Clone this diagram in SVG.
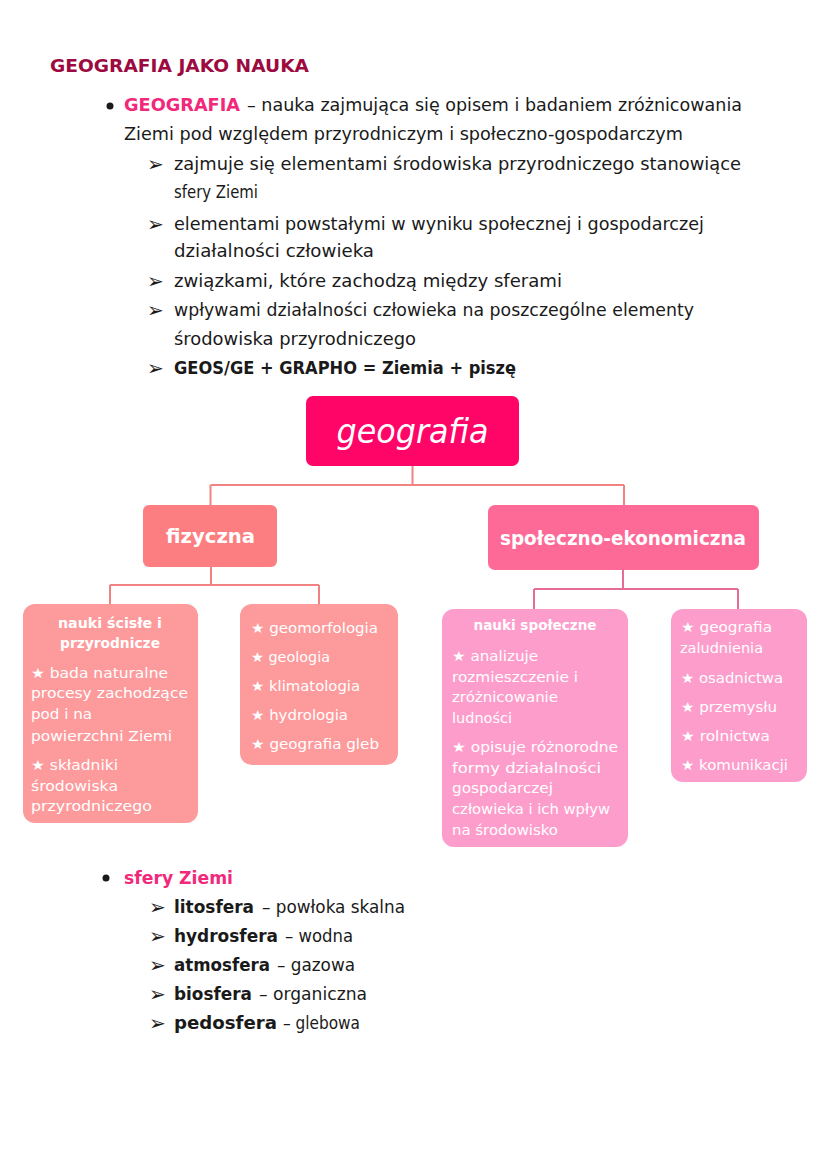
<svg xmlns="http://www.w3.org/2000/svg" width="828" height="1171" viewBox="0 0 828 1171">
<style>
.t{font-family:"DejaVu Sans","Liberation Sans",sans-serif;font-size:17px;fill:#1a1a1a}
.b{font-weight:bold}
.pk{fill:#f2287a;font-weight:bold}
.ar{font-family:"DejaVu Sans",sans-serif;font-size:20px;fill:#1a1a1a}
.w{font-family:"DejaVu Sans","Liberation Sans",sans-serif;fill:#ffffff}
.bx{font-size:14px}
.c1{stroke:#f08282;stroke-width:2;fill:none}
.c2{stroke:#e66c98;stroke-width:2;fill:none}
</style>
<rect width="828" height="1171" fill="#ffffff"/>
<g id="header">
<text class="t b" x="50" y="72" style="fill:#9c0a3f" textLength="259" lengthAdjust="spacingAndGlyphs">GEOGRAFIA JAKO NAUKA</text>
<circle cx="110" cy="106" r="3.5" fill="#1a1a1a"/>
<text class="t pk" x="124" y="111" textLength="116" lengthAdjust="spacingAndGlyphs">GEOGRAFIA</text>
<text class="t" x="247" y="111" textLength="495" lengthAdjust="spacingAndGlyphs">– nauka zajmująca się opisem i badaniem zróżnicowania</text>
<text class="t" x="124" y="140" textLength="559" lengthAdjust="spacingAndGlyphs">Ziemi pod względem przyrodniczym i społeczno-gospodarczym</text>
<text class="ar" x="147" y="171">➢</text>
<text class="t" x="174" y="170" textLength="567" lengthAdjust="spacingAndGlyphs">zajmuje się elementami środowiska przyrodniczego stanowiące</text>
<text class="t" x="174" y="198" textLength="84" lengthAdjust="spacingAndGlyphs">sfery Ziemi</text>
<text class="ar" x="147" y="231">➢</text>
<text class="t" x="174" y="230" textLength="530" lengthAdjust="spacingAndGlyphs">elementami powstałymi w wyniku społecznej i gospodarczej</text>
<text class="t" x="174" y="257" textLength="200" lengthAdjust="spacingAndGlyphs">działalności człowieka</text>
<text class="ar" x="147" y="288">➢</text>
<text class="t" x="174" y="287" textLength="388" lengthAdjust="spacingAndGlyphs">związkami, które zachodzą między sferami</text>
<text class="ar" x="147" y="317">➢</text>
<text class="t" x="174" y="316" textLength="520" lengthAdjust="spacingAndGlyphs">wpływami działalności człowieka na poszczególne elementy</text>
<text class="t" x="174" y="345" textLength="242" lengthAdjust="spacingAndGlyphs">środowiska przyrodniczego</text>
<text class="ar" x="147" y="375">➢</text>
<text class="t b" x="174" y="374" textLength="342" lengthAdjust="spacingAndGlyphs">GEOS/GE + GRAPHO = Ziemia + piszę</text>
</g>
<g id="connectors">
<path class="c1" d="M412.5 466 V485 M210.5 485 H624 M210.5 485 V505 M624 485 V505"/>
<path class="c1" d="M211 567 V585 M110 585 H319 M110 585 V605 M319 585 V605"/>
<path class="c2" d="M623 570 V589 M534 589 H738 M534 589 V609 M738 589 V609"/>
</g>
<g id="root">
<rect x="306" y="396" width="213" height="70" rx="7" fill="#fe0567"/>
<text class="w" x="412.5" y="443" font-size="34" font-style="italic" text-anchor="middle" textLength="152" lengthAdjust="spacingAndGlyphs">geografia</text>
</g>
<g id="fizyczna">
<rect x="143" y="505" width="134" height="62" rx="6" fill="#fd7e80"/>
<text class="w b" x="210.5" y="543" font-size="20" text-anchor="middle" textLength="89" lengthAdjust="spacingAndGlyphs">fizyczna</text>
</g>
<g id="spoleczno">
<rect x="488" y="505" width="271" height="65" rx="7" fill="#fe6a98"/>
<text class="w b" x="623" y="545" font-size="20" text-anchor="middle" textLength="246" lengthAdjust="spacingAndGlyphs">społeczno-ekonomiczna</text>
</g>
<g id="nauki-scisle">
<rect x="23" y="604" width="175" height="219" rx="12" fill="#fd9a9c"/>
<text class="w bx b" x="110" y="628" text-anchor="middle" textLength="104" lengthAdjust="spacingAndGlyphs">nauki ścisłe i</text>
<text class="w bx b" x="110" y="648" text-anchor="middle" textLength="100" lengthAdjust="spacingAndGlyphs">przyrodnicze</text>
<text class="w bx" x="31" y="678" textLength="137" lengthAdjust="spacingAndGlyphs">★ bada naturalne</text>
<text class="w bx" x="31" y="698" textLength="157" lengthAdjust="spacingAndGlyphs">procesy zachodzące</text>
<text class="w bx" x="31" y="719" textLength="61" lengthAdjust="spacingAndGlyphs">pod i na</text>
<text class="w bx" x="31" y="741" textLength="141" lengthAdjust="spacingAndGlyphs">powierzchni Ziemi</text>
<text class="w bx" x="31" y="770" textLength="87" lengthAdjust="spacingAndGlyphs">★ składniki</text>
<text class="w bx" x="31" y="791" textLength="87" lengthAdjust="spacingAndGlyphs">środowiska</text>
<text class="w bx" x="31" y="811" textLength="121" lengthAdjust="spacingAndGlyphs">przyrodniczego</text>
</g>
<g id="dziedziny-fizyczne">
<rect x="240" y="604" width="158" height="161" rx="12" fill="#fd9a9c"/>
<text class="w bx" x="251" y="633" textLength="127" lengthAdjust="spacingAndGlyphs">★ geomorfologia</text>
<text class="w bx" x="251" y="662" textLength="79" lengthAdjust="spacingAndGlyphs">★ geologia</text>
<text class="w bx" x="251" y="691" textLength="109" lengthAdjust="spacingAndGlyphs">★ klimatologia</text>
<text class="w bx" x="251" y="720" textLength="97" lengthAdjust="spacingAndGlyphs">★ hydrologia</text>
<text class="w bx" x="251" y="749" textLength="128" lengthAdjust="spacingAndGlyphs">★ geografia gleb</text>
</g>
<g id="nauki-spoleczne">
<rect x="442" y="609" width="186" height="238" rx="12" fill="#fd9dcb"/>
<text class="w bx b" x="535" y="630" text-anchor="middle" textLength="123" lengthAdjust="spacingAndGlyphs">nauki społeczne</text>
<text class="w bx" x="452" y="661" textLength="86" lengthAdjust="spacingAndGlyphs">★ analizuje</text>
<text class="w bx" x="452" y="682" textLength="126" lengthAdjust="spacingAndGlyphs">rozmieszczenie i</text>
<text class="w bx" x="452" y="702" textLength="106" lengthAdjust="spacingAndGlyphs">zróżnicowanie</text>
<text class="w bx" x="452" y="723" textLength="60" lengthAdjust="spacingAndGlyphs">ludności</text>
<text class="w bx" x="452" y="752" textLength="166" lengthAdjust="spacingAndGlyphs">★ opisuje różnorodne</text>
<text class="w bx" x="452" y="773" textLength="149" lengthAdjust="spacingAndGlyphs">formy działalności</text>
<text class="w bx" x="452" y="793" textLength="101" lengthAdjust="spacingAndGlyphs">gospodarczej</text>
<text class="w bx" x="452" y="814" textLength="158" lengthAdjust="spacingAndGlyphs">człowieka i ich wpływ</text>
<text class="w bx" x="452" y="835" textLength="106" lengthAdjust="spacingAndGlyphs">na środowisko</text>
</g>
<g id="dziedziny-spoleczne">
<rect x="671" y="609" width="136" height="173" rx="12" fill="#fd9dcb"/>
<text class="w bx" x="681" y="632" textLength="91" lengthAdjust="spacingAndGlyphs">★ geografia</text>
<text class="w bx" x="680" y="653" textLength="83" lengthAdjust="spacingAndGlyphs">zaludnienia</text>
<text class="w bx" x="681" y="683" textLength="102" lengthAdjust="spacingAndGlyphs">★ osadnictwa</text>
<text class="w bx" x="681" y="712" textLength="96" lengthAdjust="spacingAndGlyphs">★ przemysłu</text>
<text class="w bx" x="681" y="741" textLength="89" lengthAdjust="spacingAndGlyphs">★ rolnictwa</text>
<text class="w bx" x="681" y="770" textLength="107" lengthAdjust="spacingAndGlyphs">★ komunikacji</text>
</g>
<g id="sfery">
<circle cx="106" cy="878" r="3.5" fill="#1a1a1a"/>
<text class="t pk" x="124" y="884" textLength="109" lengthAdjust="spacingAndGlyphs">sfery Ziemi</text>
<text class="ar" x="149" y="914">➢</text>
<text class="t b" x="174" y="913" textLength="80" lengthAdjust="spacingAndGlyphs">litosfera</text>
<text class="t" x="262" y="913" textLength="143" lengthAdjust="spacingAndGlyphs">– powłoka skalna</text>
<text class="ar" x="149" y="943">➢</text>
<text class="t b" x="174" y="942" textLength="104" lengthAdjust="spacingAndGlyphs">hydrosfera</text>
<text class="t" x="285" y="942" textLength="68" lengthAdjust="spacingAndGlyphs">– wodna</text>
<text class="ar" x="149" y="972">➢</text>
<text class="t b" x="174" y="971" textLength="96" lengthAdjust="spacingAndGlyphs">atmosfera</text>
<text class="t" x="277" y="971" textLength="78" lengthAdjust="spacingAndGlyphs">– gazowa</text>
<text class="ar" x="149" y="1001">➢</text>
<text class="t b" x="174" y="1000" textLength="78" lengthAdjust="spacingAndGlyphs">biosfera</text>
<text class="t" x="259" y="1000" textLength="108" lengthAdjust="spacingAndGlyphs">– organiczna</text>
<text class="ar" x="149" y="1030">➢</text>
<text class="t b" x="174" y="1029" textLength="103" lengthAdjust="spacingAndGlyphs">pedosfera</text>
<text class="t" x="283" y="1029" textLength="77" lengthAdjust="spacingAndGlyphs">– glebowa</text>
</g>
</svg>
